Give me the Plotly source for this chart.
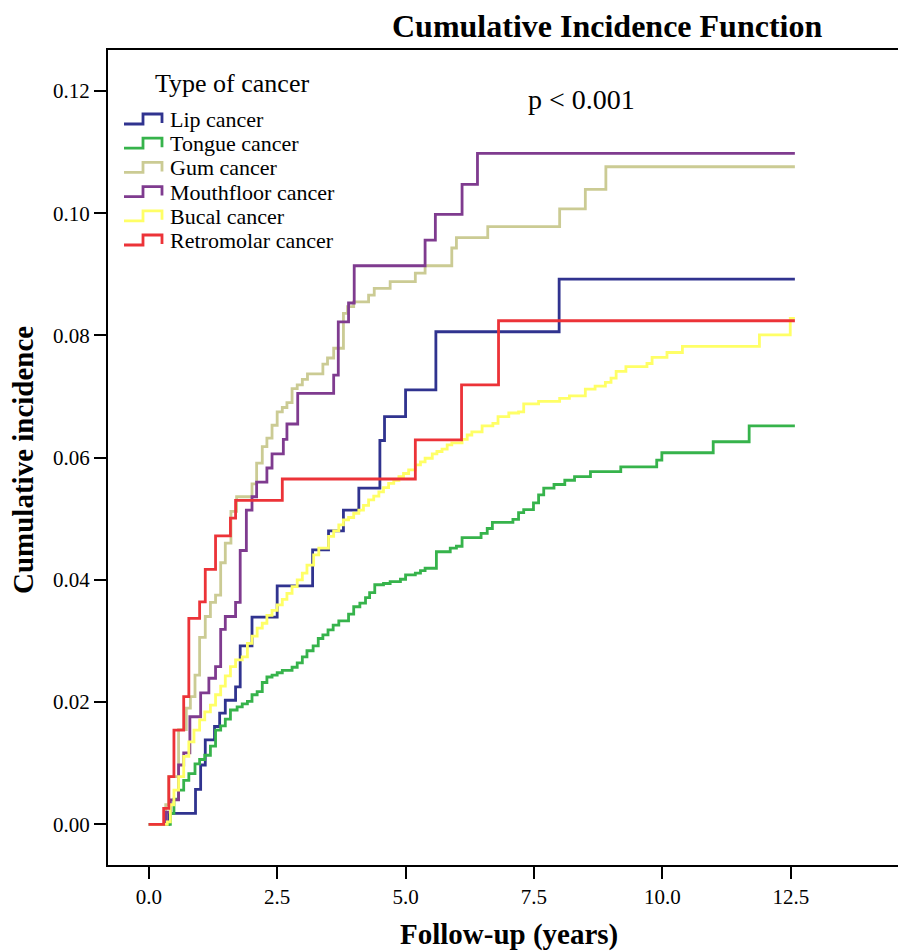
import plotly.graph_objects as go

# ---------------- data (years, cumulative incidence) ----------------
series_names = ["Lip cancer", "Tongue cancer", "Gum cancer",
                "Mouthfloor cancer", "Bucal cancer", "Retromolar cancer"]
series_colors = ["#30338F", "#36B34B", "#CBCB94", "#7F3B8F", "#FFFF66", "#EC3338"]

lip_t = [0, 0.39, 0.91, 1.01, 1.10, 1.28, 1.38, 1.49, 1.69, 1.78, 2.01, 2.50,
         3.19, 3.50, 3.79, 4.09, 4.50, 4.59, 5.00, 5.59, 7.99, 12.58]
lip_ci = [0, 0.0018, 0.0057, 0.0097, 0.0138, 0.0160, 0.0182, 0.0203, 0.0225, 0.0292,
          0.0339, 0.0390, 0.0449, 0.0480, 0.0514, 0.0550, 0.0628, 0.0667, 0.0711,
          0.0806, 0.0892, 0.0892]

tongue_t = [0, 0.42, 0.49, 0.58, 0.68, 0.78, 0.90, 0.99, 1.09, 1.20, 1.30, 1.40,
            1.49, 1.59, 1.72, 1.82, 1.92, 2.01, 2.11, 2.21, 2.30, 2.40, 2.50, 2.60,
            2.79, 2.89, 2.99, 3.08, 3.20, 3.30, 3.39, 3.49, 3.59, 3.70, 3.89, 3.99,
            4.11, 4.22, 4.30, 4.40, 4.57, 4.70, 4.90, 5.00, 5.19, 5.29, 5.38, 5.60,
            5.87, 5.99, 6.10, 6.47, 6.59, 6.69, 7.09, 7.20, 7.30, 7.49, 7.59, 7.69,
            7.89, 8.10, 8.29, 8.60, 9.19, 9.89, 9.99, 10.99, 11.69, 12.58]
tongue_ci = [0, 0.0018, 0.0041, 0.0056, 0.0072, 0.0083, 0.0099, 0.0106, 0.0113,
             0.0128, 0.0154, 0.0161, 0.0172, 0.0187, 0.0192, 0.0197, 0.0201, 0.0212,
             0.0217, 0.0232, 0.0241, 0.0244, 0.0248, 0.0252, 0.0257, 0.0264, 0.0274,
             0.0284, 0.0292, 0.0304, 0.0310, 0.0318, 0.0326, 0.0333, 0.0344, 0.0356,
             0.0362, 0.0371, 0.0379, 0.0392, 0.0394, 0.0397, 0.0401, 0.0408, 0.0411,
             0.0415, 0.0419, 0.0446, 0.0452, 0.0455, 0.0469, 0.0476, 0.0484, 0.0494,
             0.0499, 0.0510, 0.0515, 0.0526, 0.0539, 0.0550, 0.0556, 0.0563, 0.0569,
             0.0577, 0.0585, 0.0596, 0.0608, 0.0626, 0.0652, 0.0652]

gum_t = [0, 0.33, 0.39, 0.58, 0.73, 0.81, 0.90, 0.99, 1.10, 1.20, 1.30, 1.40, 1.49,
         1.60, 1.71, 2.01, 2.10, 2.21, 2.30, 2.40, 2.50, 2.60, 2.69, 2.79, 2.89,
         2.99, 3.09, 3.39, 3.48, 3.60, 3.79, 3.87, 3.99, 4.28, 4.39, 4.70, 5.19,
         5.38, 5.90, 5.99, 6.60, 8.00, 8.50, 8.90, 12.58]
gum_ci = [0, 0.0032, 0.0078, 0.0155, 0.0190, 0.0209, 0.0244, 0.0306, 0.0340, 0.0363,
          0.0375, 0.0428, 0.0460, 0.0512, 0.0536, 0.0557, 0.0591, 0.0618, 0.0632,
          0.0653, 0.0675, 0.0682, 0.0690, 0.0713, 0.0719, 0.0728, 0.0737, 0.0753,
          0.0763, 0.0779, 0.0836, 0.0847, 0.0855, 0.0866, 0.0877, 0.0888, 0.0902,
          0.0914, 0.0943, 0.0960, 0.0978, 0.1007, 0.1039, 0.1076, 0.1076]

mouth_t = [0, 0.34, 0.42, 0.58, 0.68, 0.80, 1.01, 1.17, 1.30, 1.40, 1.49, 1.69,
           1.78, 1.90, 2.01, 2.10, 2.30, 2.40, 2.62, 2.69, 2.90, 3.60, 3.69, 3.89,
           4.00, 5.38, 5.58, 6.10, 6.40, 12.58]
mouth_ci = [0, 0.0020, 0.0040, 0.0097, 0.0117, 0.0176, 0.0215, 0.0239, 0.0258,
            0.0319, 0.0340, 0.0363, 0.0448, 0.0514, 0.0536, 0.0560, 0.0583, 0.0606,
            0.0630, 0.0655, 0.0705, 0.0735, 0.0822, 0.0853, 0.0914, 0.0956, 0.0998,
            0.1047, 0.1098, 0.1098]

bucal_t = [0, 0.36, 0.42, 0.49, 0.58, 0.68, 0.78, 0.88, 0.99, 1.09, 1.20, 1.30,
           1.40, 1.49, 1.59, 1.69, 1.82, 1.92, 2.01, 2.11, 2.21, 2.30, 2.40, 2.50,
           2.60, 2.69, 2.79, 2.89, 2.99, 3.08, 3.21, 3.31, 3.50, 3.60, 3.70, 3.79,
           3.89, 3.99, 4.09, 4.18, 4.28, 4.38, 4.48, 4.57, 4.67, 4.77, 4.87, 4.96,
           5.06, 5.19, 5.29, 5.38, 5.52, 5.61, 5.71, 5.81, 5.90, 6.10, 6.20, 6.29,
           6.49, 6.70, 6.80, 7.01, 7.20, 7.30, 7.59, 8.00, 8.19, 8.50, 8.69, 8.89,
           9.00, 9.10, 9.29, 9.70, 9.80, 10.09, 10.39, 11.89, 12.49, 12.58]
bucal_ci = [0, 0.0004, 0.0032, 0.0056, 0.0078, 0.0111, 0.0135, 0.0154, 0.0171,
            0.0184, 0.0195, 0.0212, 0.0226, 0.0243, 0.0258, 0.0269, 0.0274, 0.0296,
            0.0308, 0.0321, 0.0329, 0.0342, 0.0350, 0.0359, 0.0368, 0.0378, 0.0389,
            0.0400, 0.0411, 0.0424, 0.0441, 0.0452, 0.0471, 0.0480, 0.0490, 0.0498,
            0.0502, 0.0509, 0.0514, 0.0522, 0.0531, 0.0537, 0.0544, 0.0551, 0.0558,
            0.0563, 0.0569, 0.0574, 0.0580, 0.0588, 0.0593, 0.0599, 0.0606, 0.0610,
            0.0614, 0.0621, 0.0624, 0.0630, 0.0637, 0.0642, 0.0652, 0.0656, 0.0667,
            0.0673, 0.0675, 0.0688, 0.0692, 0.0697, 0.0701, 0.0712, 0.0717, 0.0723,
            0.0730, 0.0741, 0.0749, 0.0754, 0.0764, 0.0772, 0.0782, 0.0801, 0.0828,
            0.0828]

retro_t = [0, 0.29, 0.39, 0.49, 0.68, 0.78, 0.99, 1.10, 1.30, 1.59, 1.69, 2.60,
           5.19, 6.09, 6.81, 12.58]
retro_ci = [0, 0.0026, 0.0078, 0.0154, 0.0209, 0.0337, 0.0364, 0.0417, 0.0472,
            0.0501, 0.0530, 0.0565, 0.0629, 0.0719, 0.0824, 0.0824]

x_ticks = [0, 2.5, 5, 7.5, 10, 12.5]
y_ticks = [0, 0.02, 0.04, 0.06, 0.08, 0.10, 0.12]

all_t = [lip_t, tongue_t, gum_t, mouth_t, bucal_t, retro_t]
all_ci = [lip_ci, tongue_ci, gum_ci, mouth_ci, bucal_ci, retro_ci]

# ---------------- figure ----------------
W, H = 898, 952
ML, MR, MT, MB = 108, 0, 50, 87
PW, PH = W - ML - MR, H - MT - MB
SERIF = "Liberation Serif, Times New Roman, serif"

fig = go.Figure()
for name, col, t, ci in zip(series_names, series_colors, all_t, all_ci):
    fig.add_trace(go.Scatter(x=t, y=ci, mode="lines", name=name,
                             line=dict(color=col, width=2.8, shape="hv"),
                             showlegend=False))


def px(x):
    return (x - ML) / PW


def py(y):
    return (H - MB - y) / PH


annotations = [
    dict(text="<b>Cumulative Incidence Function</b>", x=px(607), y=py(26),
         font=dict(size=32, family=SERIF, color="black")),
    dict(text="p < 0.001", x=px(581), y=py(100),
         font=dict(size=28, family=SERIF, color="black")),
    dict(text="<b>Follow-up (years)</b>", x=px(509), y=py(934),
         font=dict(size=29, family=SERIF, color="black")),
    dict(text="<b>Cumulative incidence</b>", x=px(23), y=py(460), textangle=-90,
         font=dict(size=29, family=SERIF, color="black")),
    dict(text="Type of cancer", x=px(153), y=py(83), xanchor="left",
         font=dict(size=26, family=SERIF, color="black")),
]
for a in annotations:
    a.update(xref="paper", yref="paper", showarrow=False)
    a.setdefault("xanchor", "center")
    a.setdefault("yanchor", "middle")

shapes = []
for i, (name, col) in enumerate(zip(series_names, series_colors)):
    yc = 119.5 + 24.2 * i
    annotations.append(dict(text=name, x=px(168), y=py(yc), xref="paper", yref="paper",
                            xanchor="left", yanchor="middle", showarrow=False,
                            font=dict(size=22, family=SERIF, color="black")))
    lo, hi = yc + 4.5, yc - 5.5
    path = (f"M {px(124)},{py(lo)} L {px(143)},{py(lo)} L {px(143)},{py(hi)} "
            f"L {px(162)},{py(hi)} L {px(162)},{py(lo - 1)}")
    shapes.append(dict(type="path", path=path, xref="paper", yref="paper",
                       line=dict(color=col, width=2.8)))

fig.update_layout(
    width=W, height=H,
    margin=dict(l=ML, r=MR, t=MT, b=MB),
    paper_bgcolor="white", plot_bgcolor="white",
    showlegend=False,
    annotations=annotations,
    shapes=shapes,
    font=dict(family=SERIF, color="black"),
)
fig.update_xaxes(range=[-0.794, 14.588], tickvals=x_ticks, tickformat=".1f",
                 ticks="outside", ticklen=12, tickwidth=2, tickcolor="black",
                 showline=True, linecolor="black", linewidth=2, mirror=True,
                 showgrid=False, zeroline=False,
                 tickfont=dict(size=21, family=SERIF, color="black"))
fig.update_yaxes(range=[-0.00666, 0.1267], tickvals=y_ticks, tickformat=".2f",
                 ticks="outside", ticklen=12, tickwidth=2, tickcolor="black",
                 showline=True, linecolor="black", linewidth=2, mirror=False,
                 showgrid=False, zeroline=False,
                 tickfont=dict(size=21, family=SERIF, color="black"))

fig.write_html("out.html",
               config={"displayModeBar": False},
               post_script="document.body.style.margin='0';"
                           "document.body.style.overflow='hidden';")
